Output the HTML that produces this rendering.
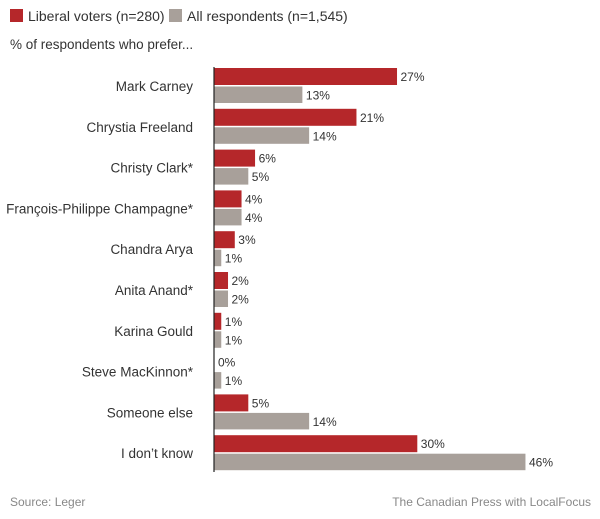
<!DOCTYPE html>
<html><head><style>
body{margin:0;background:#fff;}
svg text{font-family:"Liberation Sans",sans-serif;}
</style></head><body>
<svg width="600" height="514" xmlns="http://www.w3.org/2000/svg">
<rect x="10" y="9" width="13" height="13" fill="#b5272a"/>
<text x="28" y="21" font-size="14" fill="#333">Liberal voters (n=280)</text>
<rect x="169" y="9" width="13" height="13" fill="#a8a09a"/>
<text x="187" y="21" font-size="14" fill="#333">All respondents (n=1,545)</text>
<text x="10" y="49" font-size="13.5" fill="#333">% of respondents who prefer...</text>
<g font-size="12" fill="#333">
<g text-anchor="end" font-size="13.5">
<text x="193" y="91">Mark Carney</text>
<text x="193" y="131.8">Chrystia Freeland</text>
<text x="193" y="172.6">Christy Clark*</text>
<text x="193" y="213.4">François-Philippe Champagne*</text>
<text x="193" y="254.2">Chandra Arya</text>
<text x="193" y="295">Anita Anand*</text>
<text x="193" y="335.8">Karina Gould</text>
<text x="193" y="376.6">Steve MacKinnon*</text>
<text x="193" y="417.4">Someone else</text>
<text x="193" y="458.2">I don’t know</text>
</g>
<g fill="#b5272a">
<rect x="214.5" y="68" width="182.52" height="17"/>
<rect x="214.5" y="108.8" width="141.96" height="17"/>
<rect x="214.5" y="149.6" width="40.56" height="17"/>
<rect x="214.5" y="190.4" width="27.04" height="17"/>
<rect x="214.5" y="231.2" width="20.28" height="17"/>
<rect x="214.5" y="272" width="13.52" height="17"/>
<rect x="214.5" y="312.8" width="6.76" height="17"/>
<rect x="214.5" y="394.4" width="33.8" height="17"/>
<rect x="214.5" y="435.2" width="202.8" height="17"/>
</g>
<g fill="#a8a09a">
<rect x="214.5" y="86.5" width="87.88" height="16.5"/>
<rect x="214.5" y="127.3" width="94.64" height="16.5"/>
<rect x="214.5" y="168.1" width="33.8" height="16.5"/>
<rect x="214.5" y="208.9" width="27.04" height="16.5"/>
<rect x="214.5" y="249.7" width="6.76" height="16.5"/>
<rect x="214.5" y="290.5" width="13.52" height="16.5"/>
<rect x="214.5" y="331.3" width="6.76" height="16.5"/>
<rect x="214.5" y="372.1" width="6.76" height="16.5"/>
<rect x="214.5" y="412.9" width="94.64" height="16.5"/>
<rect x="214.5" y="453.7" width="310.96" height="16.5"/>
</g>
<text x="400.5" y="81">27%</text><text x="305.9" y="99.5">13%</text>
<text x="360" y="121.8">21%</text><text x="312.6" y="140.3">14%</text>
<text x="258.6" y="162.6">6%</text><text x="251.8" y="181.1">5%</text>
<text x="245" y="203.4">4%</text><text x="245" y="221.9">4%</text>
<text x="238.3" y="244.2">3%</text><text x="224.8" y="262.7">1%</text>
<text x="231.5" y="285">2%</text><text x="231.5" y="303.5">2%</text>
<text x="224.8" y="325.8">1%</text><text x="224.8" y="344.3">1%</text>
<text x="218" y="366.6">0%</text><text x="224.8" y="385.1">1%</text>
<text x="251.8" y="407.4">5%</text><text x="312.6" y="425.9">14%</text>
<text x="420.8" y="448.2">30%</text><text x="529" y="466.7">46%</text>
</g>
<line x1="214" y1="67" x2="214" y2="472" stroke="#222" stroke-width="1.2"/>
<text x="10" y="506" font-size="12" fill="#888">Source:  Leger</text>
<text x="591" y="506" font-size="12" fill="#888" text-anchor="end">The Canadian Press with LocalFocus</text>
</svg>
</body></html>
